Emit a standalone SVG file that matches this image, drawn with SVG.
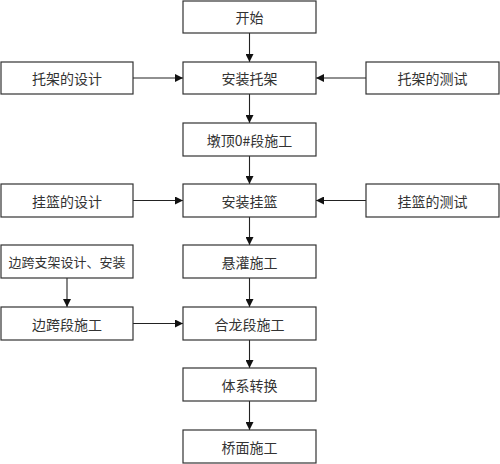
<svg xmlns="http://www.w3.org/2000/svg" width="500" height="464" viewBox="0 0 500 464">
<defs>
<style>
.b{fill:#fff;stroke:#333;stroke-width:1.2}
.t{font-family:"Noto Sans CJK SC","Noto Sans",sans-serif;font-size:14px;fill:#333;text-anchor:middle;dominant-baseline:central}
.s{font-size:13px}
.c{stroke:#222;stroke-width:1.1;fill:none;marker-end:url(#ah)}
</style>
<marker id="ah" viewBox="0 0 10 10" refX="10" refY="5" markerWidth="8" markerHeight="8" markerUnits="userSpaceOnUse" orient="auto">
<path d="M0,0 L10,5 L0,10 Z" fill="#111"/>
</marker>
</defs>
<rect width="500" height="464" fill="#fff"/>
<g id="connectors">
<line class="c" x1="249.5" y1="33" x2="249.5" y2="62"/>
<line class="c" x1="249.5" y1="94" x2="249.5" y2="123"/>
<line class="c" x1="249.5" y1="156" x2="249.5" y2="184"/>
<line class="c" x1="249.5" y1="217" x2="249.5" y2="245"/>
<line class="c" x1="249.5" y1="278" x2="249.5" y2="307"/>
<line class="c" x1="249.5" y1="340" x2="249.5" y2="368"/>
<line class="c" x1="249.5" y1="401" x2="249.5" y2="430"/>
<line class="c" x1="133" y1="78" x2="183" y2="78"/>
<line class="c" x1="366" y1="78" x2="316" y2="78"/>
<line class="c" x1="133" y1="200.5" x2="183" y2="200.5"/>
<line class="c" x1="366" y1="200.5" x2="316" y2="200.5"/>
<line class="c" x1="67" y1="278" x2="67" y2="307"/>
<line class="c" x1="133" y1="323.5" x2="183" y2="323.5"/>
</g>
<g id="n-start"><rect class="b" x="183" y="1" width="133" height="32"/><text class="t" x="249.5" y="17">开始</text></g>
<g id="n-install-bracket"><rect class="b" x="183" y="62" width="133" height="32"/><text class="t" x="249.5" y="78">安装托架</text></g>
<g id="n-pier-top"><rect class="b" x="183" y="123" width="133" height="33"/><text class="t" x="249.5" y="139.5">墩顶0#段施工</text></g>
<g id="n-install-basket"><rect class="b" x="183" y="184" width="133" height="33"/><text class="t" x="249.5" y="200.5">安装挂篮</text></g>
<g id="n-cast"><rect class="b" x="183" y="245" width="133" height="33"/><text class="t" x="249.5" y="261.5">悬灌施工</text></g>
<g id="n-closure"><rect class="b" x="183" y="307" width="133" height="33"/><text class="t" x="249.5" y="323.5">合龙段施工</text></g>
<g id="n-system"><rect class="b" x="183" y="368" width="133" height="33"/><text class="t" x="249.5" y="384.5">体系转换</text></g>
<g id="n-deck"><rect class="b" x="183" y="430" width="133" height="33"/><text class="t" x="249.5" y="446.5">桥面施工</text></g>
<g id="n-bracket-design"><rect class="b" x="1" y="62" width="132" height="32"/><text class="t" x="67" y="78">托架的设计</text></g>
<g id="n-bracket-test"><rect class="b" x="366" y="62" width="133" height="32"/><text class="t" x="432.5" y="78">托架的测试</text></g>
<g id="n-basket-design"><rect class="b" x="1" y="184" width="132" height="33"/><text class="t" x="67" y="200.5">挂篮的设计</text></g>
<g id="n-basket-test"><rect class="b" x="366" y="184" width="133" height="33"/><text class="t" x="432.5" y="200.5">挂篮的测试</text></g>
<g id="n-side-support"><rect class="b" x="1" y="245" width="132" height="33"/><text class="t s" x="67" y="261.5">边跨支架设计、安装</text></g>
<g id="n-side-span"><rect class="b" x="1" y="307" width="132" height="33"/><text class="t" x="67" y="323.5">边跨段施工</text></g>
</svg>
